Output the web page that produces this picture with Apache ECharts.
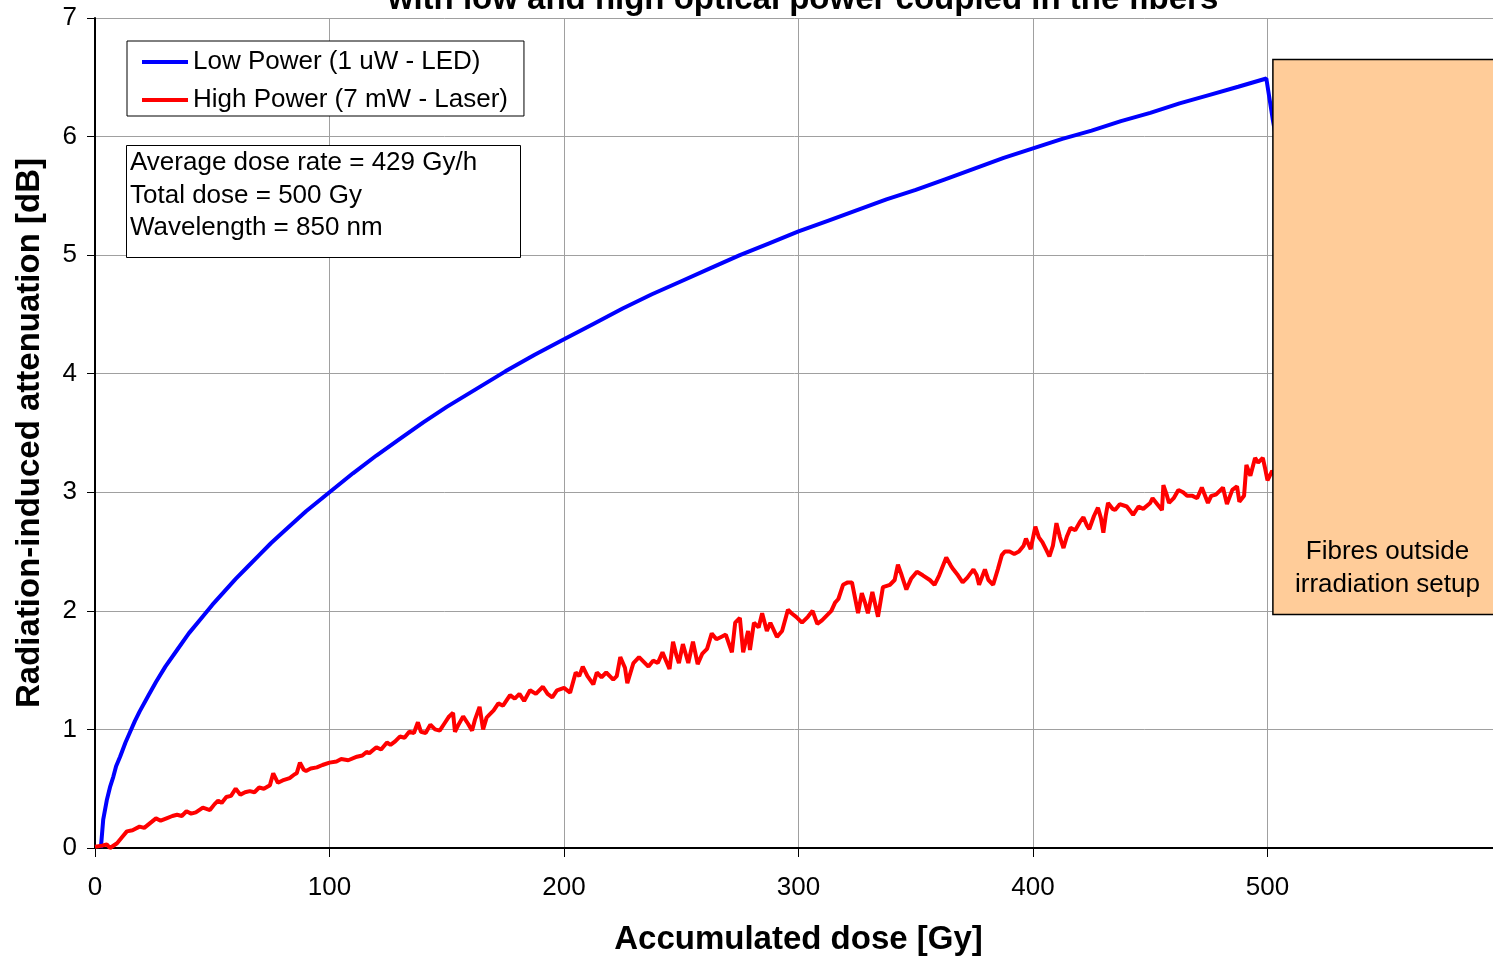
<!DOCTYPE html>
<html>
<head>
<meta charset="utf-8">
<title>Radiation-induced attenuation</title>
<script src="https://cdn.jsdelivr.net/npm/echarts@6/dist/echarts.min.js"></script>
<style>
  html, body { margin: 0; padding: 0; background: #fff; }
  #chart { width: 1493px; height: 956px; }
</style>
</head>
<body>
<div id="chart"></div>
<script>
// Accumulated dose [Gy] vs radiation-induced attenuation [dB]
const lowPowerName = 'Low Power (1 uW - LED)';
const highPowerName = 'High Power (7 mW - Laser)';

const lowPowerData = [
  [2.5, 0], [2.9, 0], [3.5, 0.24], [5, 0.40], [6.5, 0.52], [7.8, 0.60], [9, 0.69],
  [10.7, 0.77], [13, 0.89], [15, 0.98], [17, 1.07], [19, 1.15], [22.6, 1.28], [26, 1.40],
  [30, 1.53], [35, 1.67], [40, 1.81], [45, 1.93], [50, 2.05], [55, 2.16], [60, 2.27],
  [65, 2.37], [70, 2.47], [75, 2.57], [80, 2.66], [90, 2.84], [100, 3.00], [110, 3.16],
  [120, 3.31], [130, 3.45], [140, 3.59], [150, 3.72], [162.5, 3.87], [175, 4.02],
  [187.5, 4.16], [200, 4.29], [212.5, 4.42], [225, 4.55], [237.5, 4.67], [250, 4.78],
  [262.5, 4.89], [275, 5.00], [287.5, 5.10], [300, 5.20], [312.5, 5.29], [325, 5.38],
  [337.5, 5.47], [350, 5.55], [362.5, 5.64], [375, 5.73], [387.5, 5.82], [400, 5.90],
  [412.5, 5.98], [425, 6.05], [437.5, 6.13], [450, 6.20], [462.5, 6.28], [475, 6.35],
  [487.5, 6.42], [499.5, 6.49], [502.2, 6.15], [504, 5.95]
];

const highPowerData = [
  [0, 0.01], [3, 0.02], [5, 0.03], [6.4, 0.0], [9.4, 0.04], [11.5, 0.09], [13.6, 0.14],
  [16, 0.15], [19, 0.18], [21, 0.17], [23.5, 0.21], [26, 0.25], [28, 0.23], [30.5, 0.25],
  [33, 0.27], [35, 0.28], [37, 0.27], [39, 0.31], [41, 0.29], [43, 0.30], [46, 0.34],
  [49, 0.32], [51, 0.37], [52.5, 0.40], [54, 0.38], [56, 0.43], [58, 0.44], [60, 0.50],
  [62, 0.45], [64, 0.47], [66, 0.48], [68, 0.47], [70, 0.51], [72, 0.50], [74.6, 0.53],
  [76, 0.63], [78, 0.55], [80, 0.57], [83, 0.59], [85, 0.62], [86, 0.63], [87.4, 0.72],
  [89, 0.66], [90, 0.65], [92, 0.67], [94.6, 0.68], [97, 0.70], [100, 0.72], [103, 0.73],
  [105, 0.75], [108, 0.74], [111.7, 0.77], [114, 0.78], [115.8, 0.81], [117, 0.80],
  [120, 0.85], [122, 0.83], [124.5, 0.89], [126, 0.87], [128, 0.90], [130, 0.94],
  [132, 0.93], [134, 0.98], [136, 0.97], [137.7, 1.06], [139, 0.98], [141, 0.97],
  [143, 1.04], [145, 1.00], [147, 0.99], [149, 1.05], [151, 1.11], [152.7, 1.14],
  [153.5, 0.98], [155, 1.04], [157, 1.11], [159, 1.05], [160.8, 0.99], [162, 1.08],
  [164, 1.19], [165.5, 1.00], [167, 1.10], [168, 1.12], [170, 1.16], [172, 1.22],
  [174, 1.20], [177, 1.29], [179, 1.26], [181, 1.30], [183, 1.24], [185.5, 1.33],
  [188, 1.30], [191, 1.36], [193, 1.30], [195, 1.27], [197, 1.33], [200, 1.35],
  [202.6, 1.31], [205, 1.48], [206.5, 1.45], [208, 1.53], [210, 1.45], [212.5, 1.38],
  [214, 1.48], [216, 1.44], [218, 1.48], [221, 1.42], [222.5, 1.45], [224, 1.61],
  [226, 1.52], [227, 1.39], [229.6, 1.56], [232, 1.61], [234, 1.57], [236, 1.53],
  [238, 1.58], [240, 1.56], [242, 1.65], [245, 1.51], [246.5, 1.74], [248, 1.62],
  [249, 1.56], [250.7, 1.72], [253, 1.56], [255, 1.74], [257, 1.55], [259, 1.64],
  [261, 1.68], [263, 1.81], [265, 1.76], [267, 1.78], [269, 1.80], [271.6, 1.65],
  [273, 1.90], [275, 1.94], [276.4, 1.65], [278.5, 1.83], [279.3, 1.67], [281, 1.90],
  [283, 1.86], [284.5, 1.98], [286.5, 1.83], [288, 1.90], [290.8, 1.78], [293, 1.83],
  [295.5, 2.01], [297, 1.98], [299, 1.95], [301.5, 1.90], [304, 1.95], [306, 2.00],
  [308, 1.89], [310, 1.92], [312, 1.96], [314, 2.00], [315.6, 2.07], [317, 2.10],
  [319, 2.22], [321, 2.24], [322.8, 2.24], [324, 2.12], [325.4, 1.98], [327, 2.15],
  [328.5, 2.06], [329.6, 1.98], [331.5, 2.16], [333.9, 1.95], [336, 2.20], [339, 2.22],
  [341, 2.26], [342.4, 2.39], [344, 2.30], [346, 2.18], [348, 2.27], [350.5, 2.33],
  [353, 2.30], [356, 2.26], [358, 2.22], [360, 2.30], [363, 2.45], [365, 2.38],
  [366, 2.35], [368, 2.30], [370, 2.24], [372, 2.28], [374.6, 2.35], [376, 2.30],
  [377, 2.22], [379.5, 2.35], [381, 2.26], [383, 2.22], [385, 2.35], [386.7, 2.47],
  [388, 2.50], [390, 2.50], [392, 2.48], [394, 2.50], [396, 2.55], [397, 2.61],
  [399, 2.52], [401, 2.71], [402.5, 2.62], [404, 2.58], [405.5, 2.52], [407, 2.46],
  [408.5, 2.55], [410, 2.74], [411.5, 2.62], [413, 2.53], [414.5, 2.63], [416, 2.70],
  [418, 2.68], [420, 2.75], [421.5, 2.79], [423, 2.72], [424, 2.69], [426, 2.80],
  [427.7, 2.87], [429, 2.78], [430, 2.66], [431, 2.80], [432, 2.91], [434, 2.86],
  [435, 2.85], [437, 2.90], [440, 2.88], [442.7, 2.81], [445, 2.88], [447, 2.86],
  [450, 2.91], [451, 2.95], [453, 2.90], [455, 2.85], [455.6, 3.06], [457, 2.98],
  [458, 2.91], [460, 2.95], [462, 3.02], [464, 3.00], [465.7, 2.97], [468, 2.97],
  [470, 2.95], [472, 3.04], [474.6, 2.91], [476, 2.97], [478, 2.98], [481, 3.04],
  [482.7, 2.90], [485, 3.02], [487, 3.05], [488, 2.92], [490, 2.97], [491, 3.23],
  [492.7, 3.14], [494.7, 3.29], [496, 3.25], [498, 3.29], [499, 3.20], [500, 3.10],
  [502, 3.18], [503, 3.15]
];

// Region after irradiation (dose from/to, attenuation top/bottom)
const outsideRegion = [[502.3, 6.65, 600, 1.97]];
const outsideLabel = 'Fibres outside\nirradiation setup';

const infoLines = [
  'Average dose rate = 429 Gy/h',
  'Total dose = 500 Gy',
  'Wavelength = 850 nm'
];
const titleText = 'with low and high optical power coupled in the fibers';
const xAxisName = 'Accumulated dose [Gy]';
const yAxisName = 'Radiation-induced attenuation [dB]';

const FONT = 'Liberation Sans, Arial, Helvetica, sans-serif';

const chart = echarts.init(document.getElementById('chart'), null, { renderer: 'canvas' });

chart.setOption({
  backgroundColor: '#ffffff',
  animation: false,
  textStyle: { fontFamily: FONT, color: '#000' },
  title: [{
    text: infoLines.join('\n'),
    left: 126,
    top: 145,
    padding: [2, 44, 13, 4],
    borderColor: '#000',
    borderWidth: 1,
    backgroundColor: '#fff',
    textStyle: { fontFamily: FONT, fontSize: 26, fontWeight: 'normal', color: '#000', lineHeight: 32.5 }
  }],
  graphic: [{
    type: 'text',
    x: 803,
    y: 0,
    style: {
      text: titleText,
      font: 'bold 33px ' + FONT,
      fill: '#000',
      align: 'center',
      verticalAlign: 'middle'
    }
  }],
  legend: {
    data: [lowPowerName, highPowerName],
    orient: 'vertical',
    left: 127,
    top: 41,
    padding: [8, 16, 3, 15],
    itemGap: 12,
    itemWidth: 46,
    itemHeight: 4,
    icon: 'rect',
    borderColor: '#000',
    borderWidth: 1,
    backgroundColor: '#fff',
    textStyle: { fontFamily: FONT, fontSize: 26, color: '#000' }
  },
  // the plot area runs past the right edge of the page (up to 600 Gy)
  grid: { left: 95, right: -9, top: 18, bottom: 108, containLabel: false, outerBoundsMode: 'none' },
  xAxis: [{
    type: 'value',
    min: 0, max: 600, interval: 100,
    name: xAxisName,
    nameLocation: 'middle',
    nameGap: 75,
    nameTextStyle: { fontFamily: FONT, fontSize: 33, fontWeight: 'bold', color: '#000' },
    axisLine: { show: true, onZero: false, lineStyle: { color: '#000', width: 2 } },
    axisTick: { show: true, inside: false, length: 9, lineStyle: { color: '#000', width: 1 } },
    axisLabel: { fontFamily: FONT, fontSize: 26, color: '#000', margin: 27, showMaxLabel: false },
    splitLine: { show: true, lineStyle: { color: '#a0a0a0', width: 1 } }
  }, {
    type: 'value',
    position: 'top',
    min: 0, max: 600,
    axisLine: { show: true, lineStyle: { color: '#000', width: 2 } },
    axisTick: { show: false },
    axisLabel: { show: false },
    splitLine: { show: false }
  }],
  yAxis: {
    type: 'value',
    min: 0, max: 7, interval: 1,
    name: yAxisName,
    nameLocation: 'middle',
    nameGap: 49,
    nameTextStyle: { fontFamily: FONT, fontSize: 33, fontWeight: 'bold', color: '#000' },
    axisLine: { show: true, lineStyle: { color: '#000', width: 2 } },
    axisTick: { show: true, inside: false, length: 8, lineStyle: { color: '#000', width: 1 } },
    axisLabel: { fontFamily: FONT, fontSize: 26, color: '#000', margin: 18 },
    splitLine: { show: true, lineStyle: { color: '#a0a0a0', width: 1 } }
  },
  series: [{
    name: lowPowerName,
    type: 'line',
    data: lowPowerData,
    showSymbol: false,
    symbol: 'none',
    color: '#0000ff',
    lineStyle: { color: '#0000ff', width: 4 },
    z: 3
  }, {
    name: highPowerName,
    type: 'line',
    data: highPowerData,
    showSymbol: false,
    symbol: 'none',
    color: '#ff0000',
    lineStyle: { color: '#ff0000', width: 4 },
    z: 3
  }, {
    name: 'outside',
    type: 'custom',
    silent: true,
    z: 10,
    clip: false,
    data: outsideRegion,
    renderItem: function (params, api) {
      const p0 = api.coord([api.value(0), api.value(1)]);
      const p1 = api.coord([api.value(2), api.value(3)]);
      return {
        type: 'group',
        children: [{
          type: 'rect',
          shape: { x: p0[0], y: p0[1], width: p1[0] - p0[0], height: p1[1] - p0[1] },
          style: { fill: '#ffcc99', stroke: '#000', lineWidth: 1.5 }
        }, {
          type: 'text',
          style: {
            text: outsideLabel,
            x: (p0[0] + p1[0]) / 2,
            y: p1[1] - 46,
            align: 'center',
            verticalAlign: 'middle',
            font: '26px ' + FONT,
            lineHeight: 33,
            fill: '#000'
          }
        }]
      };
    }
  }]
});
</script>
</body>
</html>
